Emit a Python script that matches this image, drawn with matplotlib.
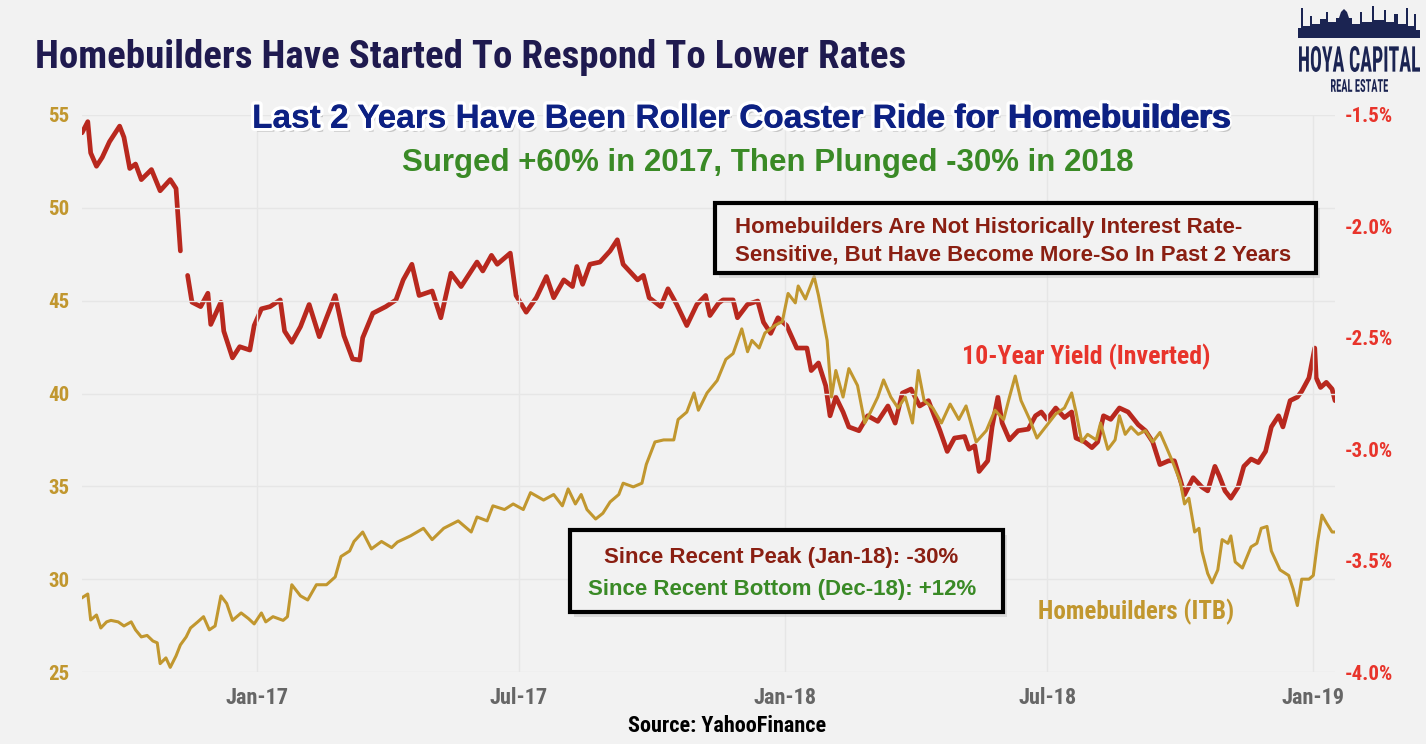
import matplotlib
matplotlib.use("Agg")
import matplotlib.pyplot as plt
import matplotlib.dates as mdates
import matplotlib.patheffects as pe
from matplotlib.patches import Rectangle, Polygon, PathPatch
from matplotlib.textpath import TextPath
from matplotlib.font_manager import FontProperties
from matplotlib.transforms import Affine2D
import numpy as np
import pandas as pd

# 10-year treasury yield (plotted inverted on the right axis)
yield_dates = [
    "2016-09-02", "2016-09-06", "2016-09-08", "2016-09-12", "2016-09-16", "2016-09-21", "2016-09-28",
    "2016-10-01", "2016-10-05", "2016-10-09", "2016-10-13", "2016-10-20", "2016-10-26", "2016-11-02",
    "2016-11-06", "2016-11-09", "2016-11-11", "2016-11-14", "2016-11-17", "2016-11-23", "2016-11-28",
    "2016-11-30", "2016-12-07", "2016-12-09", "2016-12-15", "2016-12-20", "2016-12-27", "2016-12-30",
    "2017-01-04", "2017-01-10", "2017-01-17", "2017-01-20", "2017-01-25", "2017-01-31", "2017-02-06",
    "2017-02-13", "2017-02-18", "2017-02-24", "2017-03-02", "2017-03-08", "2017-03-13", "2017-03-15",
    "2017-03-22", "2017-03-31", "2017-04-07", "2017-04-12", "2017-04-18", "2017-04-23", "2017-05-02",
    "2017-05-08", "2017-05-15", "2017-05-22", "2017-06-02", "2017-06-06", "2017-06-12", "2017-06-16",
    "2017-06-25", "2017-06-29", "2017-07-06", "2017-07-13", "2017-07-20", "2017-07-25", "2017-08-01",
    "2017-08-07", "2017-08-10", "2017-08-14", "2017-08-19", "2017-08-26", "2017-09-02", "2017-09-07",
    "2017-09-11", "2017-09-21", "2017-09-25", "2017-09-29", "2017-10-07", "2017-10-12", "2017-10-18",
    "2017-10-25", "2017-11-01", "2017-11-07", "2017-11-10", "2017-11-16", "2017-11-19", "2017-11-26",
    "2017-11-29", "2017-12-06", "2017-12-13", "2017-12-17", "2017-12-22", "2017-12-27", "2018-01-02",
    "2018-01-09", "2018-01-16", "2018-01-19", "2018-01-24", "2018-01-29", "2018-02-01", "2018-02-05",
    "2018-02-10", "2018-02-14", "2018-02-21", "2018-02-27", "2018-03-06", "2018-03-13", "2018-03-18",
    "2018-03-23", "2018-03-29", "2018-04-04", "2018-04-10", "2018-04-18", "2018-04-23", "2018-04-28",
    "2018-05-05", "2018-05-08", "2018-05-12", "2018-05-15", "2018-05-21", "2018-05-24", "2018-05-28",
    "2018-05-31", "2018-06-05", "2018-06-11", "2018-06-18", "2018-06-23", "2018-06-27", "2018-07-01",
    "2018-07-07", "2018-07-13", "2018-07-18", "2018-07-21", "2018-07-27", "2018-08-01", "2018-08-05",
    "2018-08-09", "2018-08-14", "2018-08-20", "2018-08-26", "2018-09-02", "2018-09-07", "2018-09-12",
    "2018-09-17", "2018-09-23", "2018-09-27", "2018-10-01", "2018-10-04", "2018-10-10", "2018-10-16",
    "2018-10-20", "2018-10-25", "2018-10-28", "2018-11-01", "2018-11-05", "2018-11-10", "2018-11-14",
    "2018-11-19", "2018-11-24", "2018-11-29", "2018-12-03", "2018-12-08", "2018-12-11", "2018-12-16",
    "2018-12-21", "2018-12-24", "2018-12-29", "2019-01-02", "2019-01-03", "2019-01-06", "2019-01-10",
    "2019-01-14", "2019-01-16",
]
yield_pct = [
    1.58, 1.53, 1.67, 1.73, 1.69, 1.62, 1.55,
    1.60, 1.74, 1.72, 1.79, 1.745, 1.84, 1.79,
    1.83, 2.11, np.nan, 2.22, 2.34, 2.36, 2.30,
    2.44, 2.34, 2.47, 2.59, 2.54, 2.555, 2.445,
    2.37, 2.36, 2.33, 2.47, 2.52, 2.45, 2.35,
    2.495, 2.41, 2.31, 2.49, 2.595, 2.60, 2.50,
    2.39, 2.36, 2.33, 2.24, 2.17, 2.31, 2.29,
    2.41, 2.21, 2.27, 2.16, 2.20, 2.13, 2.17,
    2.12, 2.31, 2.385, 2.32, 2.225, 2.32, 2.24,
    2.27, 2.18, 2.26, 2.17, 2.16, 2.11, 2.06,
    2.17, 2.24, 2.22, 2.32, 2.36, 2.28, 2.35,
    2.445, 2.35, 2.31, 2.40, 2.344, 2.33, 2.33,
    2.41, 2.35, 2.335, 2.43, 2.48, 2.41, 2.445,
    2.546, 2.546, 2.647, 2.613, 2.715, 2.85, 2.766,
    2.833, 2.90, 2.917, 2.85, 2.875, 2.806, 2.883,
    2.748, 2.73, 2.806, 2.782, 2.917, 3.01, 2.95,
    2.943, 3.00, 2.985, 3.10, 3.052, 2.90, 2.766,
    2.883, 2.958, 2.917, 2.91, 2.85, 2.833, 2.866,
    2.815, 2.858, 2.833, 2.95, 2.967, 2.993, 2.967,
    2.85, 2.866, 2.815, 2.833, 2.89, 2.917, 2.967,
    3.069, 3.052, 3.052, 3.136, 3.204, 3.128, 3.17,
    3.187, 3.077, 3.12, 3.187, 3.22, 3.17, 3.077,
    3.044, 3.06, 3.01, 2.90, 2.85, 2.90, 2.782,
    2.766, 2.74, 2.68, 2.546, 2.68, 2.723, 2.70,
    2.73, 2.782,
]

# Homebuilders ETF (ITB) price, left axis
itb_dates = [
    "2016-09-02", "2016-09-06", "2016-09-08", "2016-09-12", "2016-09-15", "2016-09-19", "2016-09-22",
    "2016-09-27", "2016-10-01", "2016-10-06", "2016-10-09", "2016-10-13", "2016-10-17", "2016-10-21",
    "2016-10-24", "2016-10-26", "2016-10-30", "2016-11-02", "2016-11-06", "2016-11-09", "2016-11-13",
    "2016-11-16", "2016-11-21", "2016-11-25", "2016-11-29", "2016-12-03", "2016-12-07", "2016-12-11",
    "2016-12-15", "2016-12-21", "2016-12-26", "2016-12-30", "2017-01-04", "2017-01-07", "2017-01-12",
    "2017-01-19", "2017-01-22", "2017-01-25", "2017-01-31", "2017-02-05", "2017-02-11", "2017-02-18",
    "2017-02-24", "2017-02-28", "2017-03-06", "2017-03-09", "2017-03-15", "2017-03-21", "2017-03-28",
    "2017-04-04", "2017-04-08", "2017-04-17", "2017-04-26", "2017-05-02", "2017-05-10", "2017-05-15",
    "2017-05-20", "2017-05-29", "2017-06-02", "2017-06-09", "2017-06-13", "2017-06-21", "2017-06-27",
    "2017-07-04", "2017-07-09", "2017-07-18", "2017-07-25", "2017-07-31", "2017-08-04", "2017-08-09",
    "2017-08-13", "2017-08-17", "2017-08-23", "2017-08-28", "2017-09-02", "2017-09-08", "2017-09-11",
    "2017-09-18", "2017-09-24", "2017-09-27", "2017-10-03", "2017-10-09", "2017-10-16", "2017-10-19",
    "2017-10-25", "2017-10-30", "2017-11-02", "2017-11-08", "2017-11-15", "2017-11-21", "2017-11-26",
    "2017-12-02", "2017-12-06", "2017-12-09", "2017-12-14", "2017-12-18", "2017-12-25", "2017-12-30",
    "2018-01-03", "2018-01-08", "2018-01-10", "2018-01-15", "2018-01-21", "2018-01-24", "2018-01-30",
    "2018-02-02", "2018-02-05", "2018-02-10", "2018-02-14", "2018-02-20", "2018-02-25", "2018-03-01",
    "2018-03-06", "2018-03-10", "2018-03-15", "2018-03-20", "2018-03-25", "2018-03-30", "2018-04-03",
    "2018-04-07", "2018-04-13", "2018-04-19", "2018-04-25", "2018-05-01", "2018-05-06", "2018-05-13",
    "2018-05-20", "2018-05-26", "2018-06-01", "2018-06-05", "2018-06-09", "2018-06-13", "2018-06-19",
    "2018-06-24", "2018-06-30", "2018-07-07", "2018-07-13", "2018-07-18", "2018-07-21", "2018-07-25",
    "2018-07-29", "2018-08-04", "2018-08-07", "2018-08-12", "2018-08-17", "2018-08-20", "2018-08-24",
    "2018-08-28", "2018-09-02", "2018-09-07", "2018-09-12", "2018-09-17", "2018-09-21", "2018-09-26",
    "2018-10-01", "2018-10-04", "2018-10-07", "2018-10-11", "2018-10-14", "2018-10-16", "2018-10-20",
    "2018-10-23", "2018-10-27", "2018-10-30", "2018-11-03", "2018-11-05", "2018-11-08", "2018-11-13",
    "2018-11-19", "2018-11-23", "2018-11-26", "2018-11-30", "2018-12-03", "2018-12-09", "2018-12-15",
    "2018-12-18", "2018-12-21", "2018-12-24", "2018-12-29", "2019-01-01", "2019-01-04", "2019-01-07",
    "2019-01-10", "2019-01-14", "2019-01-16",
]
itb_price = [
    29.0, 29.2, 27.8, 28.07, 27.37, 27.7, 27.78,
    27.7, 27.48, 27.7, 27.27, 26.89, 26.97, 26.67,
    26.57, 25.45, 25.76, 25.25, 25.87, 26.46, 26.89,
    27.37, 27.7, 27.98, 27.27, 27.48, 29.1, 28.69,
    27.78, 28.18, 27.88, 27.59, 28.18, 27.7, 27.98,
    27.78, 27.98, 29.7, 29.1, 28.88, 29.7, 29.7,
    30.12, 31.22, 31.52, 32.03, 32.54, 31.63, 32.03,
    31.7, 32.0, 32.33, 32.74, 32.13, 32.74, 32.94,
    33.14, 32.54, 33.35, 33.14, 33.95, 33.75, 34.05,
    33.75, 34.66, 34.26, 34.56, 33.95, 34.86, 34.05,
    34.56, 33.75, 33.24, 33.55, 34.16, 34.56, 35.17,
    34.97, 35.17, 36.18, 37.39, 37.5, 37.5, 38.6,
    39.0, 40.03, 39.1, 40.03, 40.7, 41.84, 42.15,
    43.48, 42.25, 42.86, 42.45, 43.26, 43.67, 43.87,
    45.39, 44.88, 45.79, 45.09, 46.3, 45.29, 42.86,
    39.81, 41.24, 39.81, 41.34, 40.43, 38.41, 39.0,
    39.81, 40.73, 39.81, 39.22, 39.81, 38.41, 41.24,
    39.62, 39.22, 38.41, 39.43, 38.6, 39.33, 37.39,
    38.0, 39.1, 38.6, 39.81, 40.94, 39.62, 38.6,
    37.6, 38.2, 38.9, 39.22, 40.03, 39.0, 37.39,
    37.8, 37.5, 38.41, 36.99, 37.5, 38.8, 37.8,
    38.2, 37.8, 38.0, 37.39, 37.9, 37.19, 36.28,
    35.27, 34.05, 34.36, 32.54, 32.74, 31.52, 30.31,
    29.8, 30.5, 32.13, 31.93, 32.33, 30.93, 30.6,
    31.74, 31.93, 32.74, 32.84, 31.52, 30.5, 30.2,
    29.49, 28.58, 30.0, 30.0, 30.2, 32.03, 33.45,
    33.04, 32.54, 32.54,
]

left_ticks = [25, 30, 35, 40, 45, 50, 55]
right_ticks = [-4.0, -3.5, -3.0, -2.5, -2.0, -1.5]
x_ticks = ["2017-01-01", "2017-07-01", "2018-01-01", "2018-07-01", "2019-01-01"]

W, H = 1426, 744
BG = "#f2f2f2"
RED = "#b8281e"
GOLD = "#c1972f"
RED_TXT = "#e8342b"
DARK_RED = "#8a1f12"
GREEN = "#3a8a26"
NAVY = "#0d2183"
TITLE_NAVY = "#1f1a4f"
LOGO = "#1b2452"
NARROW = ["Roboto Condensed", "DejaVu Sans"]
WIDE = ["Liberation Sans", "DejaVu Sans"]


def fx(x):
    return x / W


def fy(y):
    return 1 - y / H


def fit_text(s, x0, y0, x1, y1, family, color):
    # squeeze a text path into a pixel box (used for the logo lettering)
    tp = TextPath((0, 0), s, size=10, prop=FontProperties(family=family, weight="bold"))
    bb = tp.get_extents()
    tr = (Affine2D().translate(-bb.x0, -bb.y0)
          .scale((x1 - x0) / bb.width / W, (y1 - y0) / bb.height / H)
          .translate(fx(x0), fy(y1)) + fig.transFigure)
    fig.patches.append(PathPatch(tp, transform=tr, facecolor=color, edgecolor="none"))


yd = pd.to_datetime(yield_dates)
idt = pd.to_datetime(itb_dates)

fig = plt.figure(figsize=(W / 100, H / 100), dpi=100, facecolor=BG)
ax = fig.add_axes([fx(82), fy(672), (1335 - 82) / W, (672 - 115) / H])
ax2 = ax.twinx()

ax2.plot(yd, -np.array(yield_pct), color=RED, lw=3.4, solid_capstyle="round", zorder=2)
ax.plot(idt, itb_price, color=GOLD, lw=2.2, zorder=3)
ax.set_zorder(ax2.get_zorder() + 1)
ax.patch.set_visible(False)
ax2.patch.set_facecolor(BG)

ax.set_ylim(25, 55)
ax2.set_ylim(-4.0, -1.5)
ax.set_xlim(idt[0], idt[-1])

ax.set_yticks(left_ticks)
ax2.set_yticks(right_ticks)
ax2.set_yticklabels([f"{v:.1f}%" for v in right_ticks])
ax.set_xticks(pd.to_datetime(x_ticks))
ax.xaxis.set_major_formatter(mdates.DateFormatter("%b-%y"))

for a in (ax, ax2):
    for s in a.spines.values():
        s.set_visible(False)
    a.tick_params(length=0)

ax.grid(True, color="#e6e6e6", lw=1)
ax2.grid(False)

for lab in ax.get_yticklabels():
    lab.set_fontfamily(NARROW)
    lab.set_fontweight("bold")
    lab.set_fontsize(15)
    lab.set_color(GOLD)
for lab in ax2.get_yticklabels():
    lab.set_fontfamily(NARROW)
    lab.set_fontweight("bold")
    lab.set_fontsize(15)
    lab.set_color(RED_TXT)
for lab in ax.get_xticklabels():
    lab.set_fontfamily(NARROW)
    lab.set_fontweight("bold")
    lab.set_fontsize(16)
    lab.set_color("#666666")
ax.tick_params(axis="y", pad=9)
ax2.tick_params(axis="y", pad=7)
ax.tick_params(axis="x", pad=11)

# titles
fig.text(fx(35), fy(58), "Homebuilders Have Started To Respond To Lower Rates",
         fontfamily=NARROW, fontweight="bold", fontsize=28, color=TITLE_NAVY, va="center", ha="left")
fig.text(fx(742), fy(119), "Last 2 Years Have Been Roller Coaster Ride for Homebuilders",
         fontfamily=WIDE, fontweight="bold", fontsize=24, color=NAVY, va="center", ha="center",
         path_effects=[pe.SimplePatchShadow(offset=(2, -3), shadow_rgbFace="#999999", alpha=0.5),
                       pe.withStroke(linewidth=5, foreground="white")])
fig.text(fx(742), fy(119), "Last 2 Years Have Been Roller Coaster Ride for Homebuilders",
         fontfamily=WIDE, fontweight="bold", fontsize=24, color=NAVY, va="center", ha="center")
fig.text(fx(768), fy(163), "Surged +60% in 2017, Then Plunged -30% in 2018",
         fontfamily=WIDE, fontweight="bold", fontsize=22.5, color=GREEN, va="center", ha="center")

# annotation boxes
for (x0, y0, x1, y1) in [(715, 203, 1316, 273), (570, 530, 1003, 612)]:
    fig.patches.append(Rectangle((fx(x0) + 0.003, fy(y1) - 0.007), (x1 - x0) / W, (y1 - y0) / H,
                                 transform=fig.transFigure, facecolor="#c4c4c4", edgecolor="none",
                                 alpha=0.5, zorder=4))
    fig.patches.append(Rectangle((fx(x0), fy(y1)), (x1 - x0) / W, (y1 - y0) / H,
                                 transform=fig.transFigure, facecolor=BG, edgecolor="black",
                                 lw=3, zorder=5))
fig.text(fx(735), fy(228), "Homebuilders Are Not Historically Interest Rate-",
         fontfamily=WIDE, fontweight="bold", fontsize=16, color=DARK_RED, va="center", ha="left", zorder=6)
fig.text(fx(735), fy(255), "Sensitive, But Have Become More-So In Past 2 Years",
         fontfamily=WIDE, fontweight="bold", fontsize=16, color=DARK_RED, va="center", ha="left", zorder=6)
fig.text(fx(781), fy(557), "Since Recent Peak (Jan-18): -30%",
         fontfamily=WIDE, fontweight="bold", fontsize=16, color=DARK_RED, va="center", ha="center", zorder=6)
fig.text(fx(782), fy(590), "Since Recent Bottom (Dec-18): +12%",
         fontfamily=WIDE, fontweight="bold", fontsize=16, color=GREEN, va="center", ha="center", zorder=6)

# series labels
fig.text(fx(962), fy(357), "10-Year Yield (Inverted)", fontfamily=NARROW, fontweight="bold",
         fontsize=18.5, color=RED_TXT, va="center", ha="left")
fig.text(fx(1038), fy(612), "Homebuilders (ITB)", fontfamily=NARROW, fontweight="bold",
         fontsize=18, color=GOLD, va="center", ha="left")
fig.text(fx(727), fy(726), "Source: YahooFinance", fontfamily=NARROW, fontweight="bold",
         fontsize=16, color="black", va="center", ha="center")

# logo
sky = [(1298, 38), (1298, 28), (1301, 28), (1301, 8), (1303, 8), (1303, 26), (1310, 26), (1310, 16),
       (1312, 16), (1312, 24), (1320, 24), (1320, 19), (1326, 19), (1326, 12), (1328, 12), (1328, 22),
       (1336, 22), (1336, 18), (1339, 18), (1341, 12), (1344, 9), (1347, 12), (1349, 18), (1352, 18),
       (1352, 24), (1360, 24), (1360, 12), (1362, 12), (1362, 22), (1372, 22), (1372, 6), (1374, 6),
       (1374, 20), (1384, 20), (1384, 10), (1386, 10), (1386, 22), (1394, 22), (1394, 14), (1398, 14),
       (1398, 24), (1406, 24), (1406, 8), (1408, 8), (1408, 26), (1414, 26), (1414, 14), (1416, 14),
       (1416, 30), (1420, 30), (1420, 38)]
fig.patches.append(Polygon([(fx(x), fy(y)) for x, y in sky], closed=True,
                           transform=fig.transFigure, facecolor=LOGO, edgecolor="none"))
fit_text("HOYA CAPITAL", 1299, 46, 1420, 72, NARROW, LOGO)
fit_text("REAL ESTATE", 1331, 79, 1388, 92, NARROW, LOGO)

fig.savefig("out.png", dpi=100, facecolor=BG)
